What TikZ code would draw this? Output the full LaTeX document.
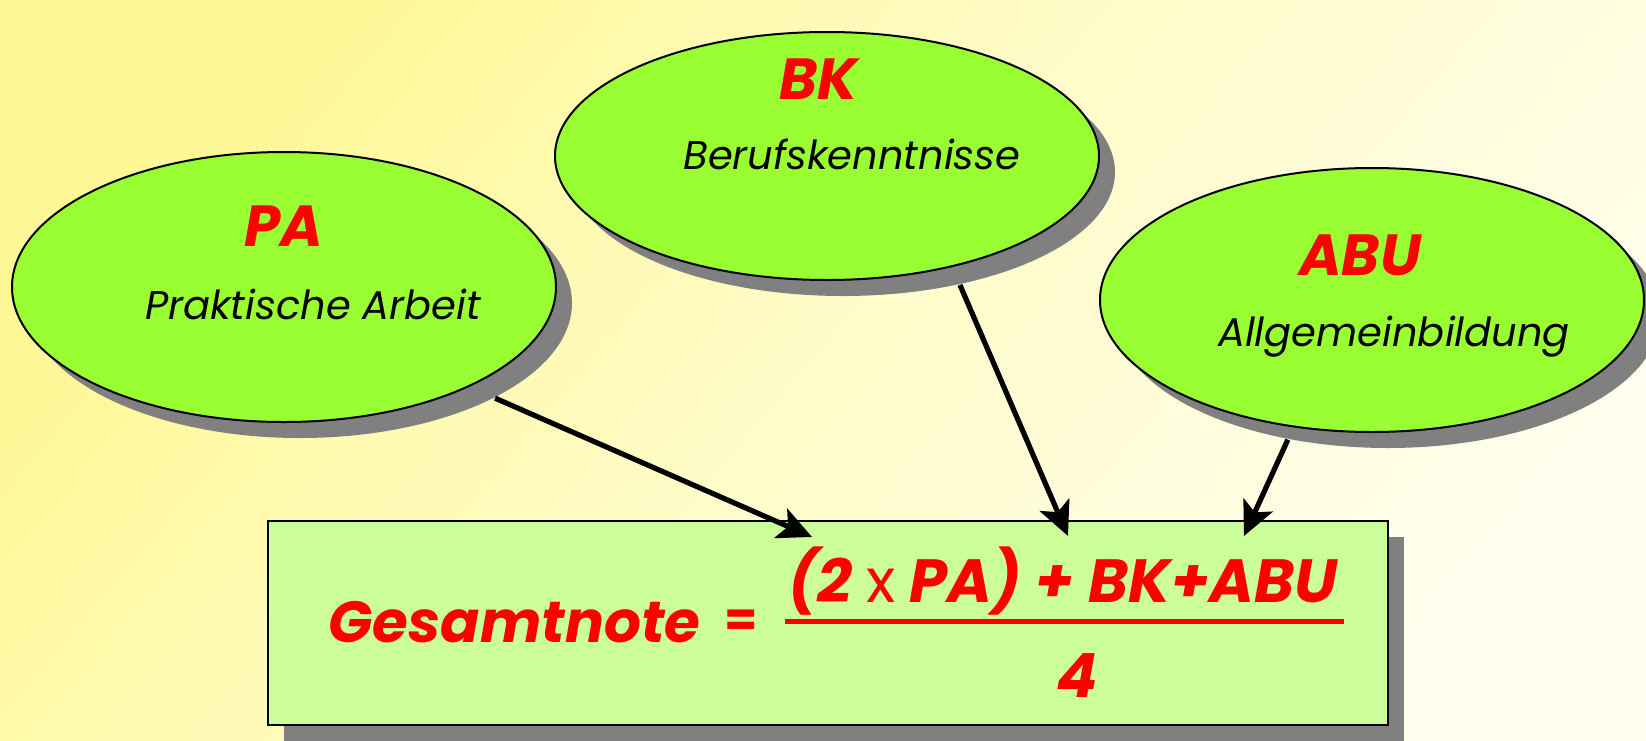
\documentclass[tikz,border=0pt]{standalone}
\usepackage{fontspec}
\setmainfont{Poppins}
\usetikzlibrary{shapes.geometric,shadows,arrows.meta}
\definecolor{bgyellow}{RGB}{255,248,150}
\definecolor{bglight}{RGB}{255,254,236}
\definecolor{blobgreen}{RGB}{153,255,51}
\definecolor{boxgreen}{RGB}{204,255,153}
\definecolor{shadowgray}{RGB}{128,128,128}
\tikzset{
  blob/.style={ellipse, draw=black, line width=1pt, fill=blobgreen, inner sep=0pt,
    drop shadow={shadow xshift=8pt, shadow yshift=-8pt, fill=shadowgray, opacity=1}},
  title/.style={font=\fontsize{29}{29}\selectfont\bfseries\itshape, text=red, inner sep=0pt},
  subtitle/.style={font=\fontsize{20}{20}\selectfont\itshape, inner sep=0pt},
  formula/.style={font=\fontsize{30.5}{30.5}\selectfont\bfseries\itshape, text=red, inner sep=0pt},
  feed/.style={line width=2.6pt, -{Stealth[length=17pt,width=16pt,inset=4pt]}},
}
\begin{document}
\begin{tikzpicture}[x=0.5pt,y=-0.5pt]
    \shade[top color=bgyellow, bottom color=bglight, middle color=bgyellow!40!bglight, shading angle=50]
        (0,0) rectangle (1646,740);
    \useasboundingbox (0,0) rectangle (1646,740);
    % the three parts of the exam
    \node[blob, minimum width=272pt, minimum height=135pt] (pa) at (284,287) {};
    \node[blob, minimum width=272pt, minimum height=124pt] (bk) at (827,156) {};
    \node[blob, minimum width=272pt, minimum height=132pt] (abu) at (1372,300) {};
    \node[title] (pa-t) at ([shift={(0,-61)}]pa.center) {PA};
    \node[subtitle] (pa-s) at ([shift={(29,17)}]pa.center) {Praktische Arbeit};
    \node[title] (bk-t) at ([shift={(-8,-77)}]bk.center) {BK};
    \node[subtitle] (bk-s) at ([shift={(25,-2)}]bk.center) {Berufskenntnisse};
    \node[title] (abu-t) at ([shift={(-12,-45)}]abu.center) {ABU};
    \node[subtitle] (abu-s) at ([shift={(22,37)}]abu.center) {Allgemeinbildung};
    % the result box
    \node[rectangle, draw=black, line width=1pt, fill=boxgreen, minimum width=560pt,
        minimum height=102pt, drop shadow={shadow xshift=8pt, shadow yshift=-8pt,
        fill=shadowgray, opacity=1}] (note) at (828,623) {};
    \node[formula, anchor=base west, font=\fontsize{29}{29}\selectfont\bfseries\itshape] (lhs) at (328,642) {Gesamtnote};
    \node[formula, anchor=center, font=\fontsize{24}{24}\selectfont\bfseries] (eq) at (741,623) {=};
    \node[formula, anchor=base] (num) at (1063,602) {(2 {\mdseries\upshape x} PA) + BK+ABU};
    \draw[red, line width=2.5pt] (785,621) -- (1344,621);
    \node[formula, anchor=base] (den) at (1077,697) {4};
    \coordinate (pa-in) at (812,537);
    \coordinate (bk-in) at (1068,536);
    \coordinate (abu-in) at (1244,536);
    % arrows leave at the shadow edge
    \draw[feed] ([shift={(16,16)}]pa.-26.5) -- (pa-in);
    \draw[feed] ([shift={(16,16)}]bk.-44.7) -- (bk-in);
    \draw[feed] ([shift={(16,16)}]abu.-129.5) -- (abu-in);
\end{tikzpicture}
\end{document}
